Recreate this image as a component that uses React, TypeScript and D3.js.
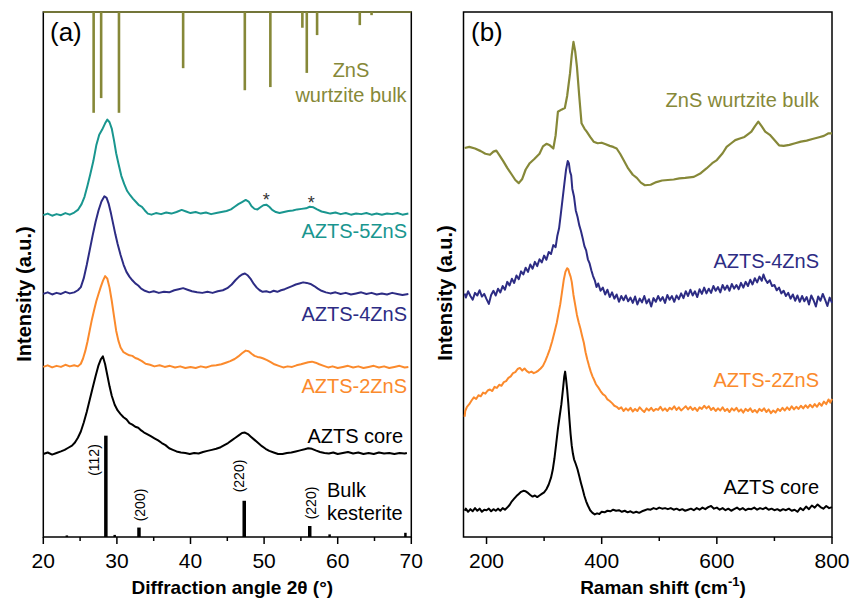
import React from "react";
import * as d3 from "d3";

type Pt = [number, number];

// ---- axis ticks ----
const xrdTicks = [20, 30, 40, 50, 60, 70];
const xrdMinorTicks = [25, 35, 45, 55, 65];
const ramanTicks = [200, 400, 600, 800];
const ramanMinorTicks = [300, 500, 700];

// ---- (a) XRD patterns, [2theta, stacked intensity a.u.] ----
const xrd5ZnS: Pt[] = [
  [20.0, 61.3], [20.6, 61.6], [21.2, 61.2], [21.8, 61.5], [22.4, 61.3], [23.0, 61.7], [23.6, 61.4], [24.2, 61.8],
  [24.7, 62.3], [25.2, 63.4], [25.6, 64.8], [26.0, 66.9], [26.4, 69.2], [26.8, 71.6], [27.2, 74.6], [27.6, 76.6],
  [28.0, 77.6], [28.4, 78.8], [28.7, 79.5], [29.0, 79.0], [29.3, 77.8], [29.6, 75.6], [29.9, 73.1], [30.2, 71.2],
  [30.6, 68.8], [31.0, 67.2], [31.4, 65.9], [31.8, 65.1], [32.2, 64.4], [32.6, 63.8], [33.0, 63.2], [33.4, 62.9],
  [33.8, 62.2], [34.2, 61.6], [34.7, 61.4], [35.3, 61.7], [36.0, 61.5], [36.7, 61.8], [37.4, 61.6], [38.1, 61.9],
  [38.8, 62.3], [39.4, 62.0], [40.0, 61.7], [40.7, 61.9], [41.4, 61.6], [42.1, 61.8], [42.8, 61.5], [43.5, 61.7],
  [44.2, 61.9], [44.9, 62.1], [45.5, 62.4], [46.0, 62.9], [46.5, 63.4], [47.0, 63.8], [47.5, 64.2], [47.9, 63.9],
  [48.3, 63.0], [48.7, 62.5], [49.1, 62.4], [49.5, 62.8], [49.9, 63.2], [50.3, 63.3], [50.7, 62.9], [51.1, 62.3],
  [51.6, 61.9], [52.1, 61.7], [52.7, 61.9], [53.3, 62.1], [53.9, 62.2], [54.5, 62.4], [55.1, 62.5], [55.7, 62.6],
  [56.2, 62.9], [56.7, 62.8], [57.2, 62.4], [57.8, 62.0], [58.4, 61.8], [59.0, 61.6], [59.7, 61.8], [60.4, 61.5],
  [61.1, 61.7], [61.8, 61.4], [62.5, 61.6], [63.2, 61.5], [63.9, 61.7], [64.6, 61.4], [65.3, 61.6], [66.0, 61.4],
  [66.7, 61.6], [67.4, 61.5], [68.1, 61.7], [68.8, 61.4], [69.6, 61.6],
];

const xrd4ZnS: Pt[] = [
  [20.0, 46.3], [20.6, 46.6], [21.2, 46.2], [21.8, 46.5], [22.4, 46.3], [23.0, 46.7], [23.6, 46.4], [24.2, 46.6],
  [24.7, 47.0], [25.1, 47.6], [25.5, 49.3], [25.9, 51.8], [26.3, 54.6], [26.7, 57.4], [27.1, 60.0], [27.5, 62.2],
  [27.9, 63.9], [28.3, 64.9], [28.6, 64.6], [28.9, 63.4], [29.2, 61.6], [29.5, 59.6], [29.8, 57.6], [30.1, 55.8],
  [30.5, 53.7], [30.9, 51.9], [31.3, 50.5], [31.7, 49.6], [32.1, 48.9], [32.5, 48.3], [32.9, 47.9], [33.3, 47.3],
  [33.8, 46.9], [34.4, 46.6], [35.0, 46.8], [35.7, 46.5], [36.4, 46.7], [37.1, 46.6], [37.8, 47.0], [38.4, 47.2],
  [39.0, 47.4], [39.6, 47.1], [40.2, 46.8], [40.9, 46.6], [41.6, 46.5], [42.3, 46.7], [43.0, 46.5], [43.7, 46.8],
  [44.4, 47.0], [45.0, 47.4], [45.6, 48.1], [46.1, 48.9], [46.6, 49.6], [47.0, 50.0], [47.4, 50.2], [47.8, 49.8],
  [48.2, 49.1], [48.6, 48.2], [49.0, 47.5], [49.4, 47.0], [49.8, 46.7], [50.3, 46.8], [50.8, 46.6], [51.3, 46.9],
  [51.8, 46.7], [52.3, 47.0], [52.8, 47.2], [53.3, 47.5], [53.8, 47.8], [54.3, 48.1], [54.8, 48.3], [55.3, 48.5],
  [55.8, 48.4], [56.3, 48.2], [56.8, 47.8], [57.3, 47.3], [57.8, 46.9], [58.4, 46.6], [59.0, 46.4], [59.7, 46.6],
  [60.4, 46.3], [61.1, 46.5], [61.8, 46.2], [62.5, 46.4], [63.2, 46.6], [63.9, 46.3], [64.6, 46.5], [65.3, 46.2],
  [66.0, 46.4], [66.7, 46.2], [67.4, 46.5], [68.1, 46.3], [68.8, 46.1], [69.6, 46.3],
];

const xrd2ZnS: Pt[] = [
  [20.0, 32.4], [20.6, 32.7], [21.2, 32.3], [21.8, 32.6], [22.4, 32.4], [23.0, 32.8], [23.6, 32.5], [24.2, 32.7],
  [24.7, 32.5], [25.1, 33.0], [25.4, 34.0], [25.7, 35.4], [26.0, 37.2], [26.3, 39.3], [26.6, 41.4], [26.9, 43.2],
  [27.2, 44.9], [27.5, 46.3], [27.8, 47.6], [28.1, 48.8], [28.4, 49.7], [28.7, 49.2], [29.0, 47.5], [29.3, 45.0],
  [29.6, 42.1], [29.9, 39.3], [30.2, 37.4], [30.5, 36.1], [30.9, 35.2], [31.3, 34.9], [31.7, 34.6], [32.1, 34.5],
  [32.5, 34.1], [32.9, 33.9], [33.4, 33.5], [33.9, 33.0], [34.5, 32.8], [35.1, 32.5], [35.8, 32.7], [36.5, 32.4],
  [37.2, 32.6], [37.9, 32.3], [38.6, 32.5], [39.3, 32.2], [40.0, 32.4], [40.7, 32.2], [41.4, 32.5], [42.1, 32.3],
  [42.8, 32.6], [43.5, 32.7], [44.2, 32.9], [44.8, 33.2], [45.4, 33.5], [46.0, 33.9], [46.5, 34.4], [47.0, 35.0],
  [47.5, 35.5], [47.9, 35.4], [48.3, 34.9], [48.7, 34.5], [49.1, 34.3], [49.5, 34.2], [49.9, 34.0], [50.4, 33.7],
  [50.9, 33.3], [51.4, 32.9], [52.0, 32.6], [52.6, 32.3], [53.2, 32.5], [53.8, 32.4], [54.4, 32.7], [55.0, 32.9],
  [55.5, 33.1], [56.0, 33.3], [56.5, 33.4], [57.0, 33.2], [57.5, 32.9], [58.1, 32.6], [58.7, 32.3], [59.3, 32.5],
  [60.0, 32.2], [60.7, 32.4], [61.4, 32.6], [62.1, 32.3], [62.8, 32.5], [63.5, 32.2], [64.2, 32.4], [64.9, 32.6],
  [65.6, 32.3], [66.3, 32.5], [67.0, 32.2], [67.7, 32.4], [68.4, 32.6], [69.1, 32.3], [69.6, 32.4],
];

const xrdCore: Pt[] = [
  [20.0, 15.8], [20.6, 16.1], [21.2, 15.7], [21.8, 16.0], [22.4, 16.3], [22.9, 16.6], [23.4, 17.0], [23.9, 17.4],
  [24.3, 18.0], [24.7, 18.9], [25.1, 20.1], [25.5, 21.8], [25.9, 23.8], [26.3, 26.1], [26.7, 28.4], [27.1, 30.6],
  [27.5, 32.7], [27.8, 33.8], [28.1, 34.4], [28.4, 32.9], [28.7, 30.8], [29.0, 28.7], [29.3, 26.9], [29.7, 25.2],
  [30.1, 24.1], [30.5, 23.4], [30.9, 22.8], [31.3, 22.4], [31.7, 21.7], [32.1, 21.4], [32.5, 21.0], [32.9, 20.8],
  [33.3, 20.3], [33.7, 19.9], [34.1, 19.6], [34.6, 19.2], [35.1, 18.8], [35.6, 18.4], [36.1, 17.9], [36.6, 17.5],
  [37.1, 16.9], [37.6, 16.6], [38.1, 16.3], [38.7, 16.1], [39.3, 16.0], [39.9, 15.8], [40.5, 16.0], [41.1, 15.9],
  [41.7, 16.2], [42.3, 16.4], [42.9, 16.6], [43.5, 16.8], [44.1, 17.1], [44.6, 17.5], [45.1, 17.9], [45.6, 18.4],
  [46.1, 18.9], [46.6, 19.4], [47.0, 19.8], [47.4, 19.9], [47.8, 19.6], [48.2, 19.1], [48.7, 18.5], [49.2, 17.9],
  [49.7, 17.3], [50.2, 16.8], [50.7, 16.4], [51.3, 16.1], [51.9, 15.8], [52.5, 15.8], [53.1, 16.0], [53.7, 16.1],
  [54.3, 16.3], [54.9, 16.5], [55.5, 16.7], [56.0, 16.9], [56.5, 16.8], [57.0, 16.5], [57.6, 16.2], [58.2, 16.0],
  [58.8, 15.9], [59.4, 16.1], [60.0, 15.8], [60.7, 16.0], [61.4, 16.2], [62.1, 15.9], [62.8, 16.1], [63.5, 15.8],
  [64.2, 16.0], [64.9, 15.8], [65.6, 16.1], [66.3, 15.9], [67.0, 16.0], [67.7, 15.8], [68.4, 16.0], [69.1, 15.9],
  [69.4, 16.0],
];

// reference sticks: ZnS wurtzite hangs from the top, [2theta, relative intensity]
const znsWurtziteSticks: Pt[] = [
  [26.84, 19.2], [27.86, 16.4], [30.28, 19.2], [39.0, 10.7], [47.38, 14.9], [50.85, 14.3],
  [55.2, 3.0], [55.8, 11.6], [57.2, 4.4], [63.0, 2.5], [64.6, 0.6],
];
// bulk kesterite, [2theta, relative intensity]
const kesteriteSticks: Pt[] = [
  [23.2, 0.3], [28.5, 19.3], [29.7, 0.4], [33.0, 1.8], [47.3, 6.9], [56.2, 2.1], [58.9, 0.5], [69.2, 0.8],
];
const kesteriteHkl = ["(112)", "(200)", "(220)", "(220)"];
const kesteriteHklPos = [28.5, 33.0, 47.3, 56.2];

// ---- (b) Raman spectra, [shift cm-1, stacked intensity a.u.] ----
const ramanZnS: Pt[] = [
  [162, 74.1], [170, 74.3], [180, 74.0], [190, 73.5], [198, 73.0], [206, 72.8], [212, 73.4], [217, 73.6],
  [222, 72.8], [229, 71.6], [236, 70.3], [244, 69.0], [250, 68.0], [256, 67.4], [262, 68.2], [268, 70.0],
  [275, 71.2], [283, 72.0], [292, 73.0], [298, 74.4], [304, 74.9], [310, 74.6], [316, 74.0], [320, 76.5],
  [324, 81.0], [330, 81.4], [336, 81.7], [340, 84.0], [345, 88.3], [348, 91.8], [351, 94.3], [354, 92.5],
  [357, 89.6], [361, 84.0], [365, 78.8], [370, 77.8], [374, 77.2], [380, 76.2], [386, 75.3], [393, 75.0],
  [400, 75.1], [407, 74.8], [414, 74.5], [420, 74.3], [426, 74.0], [432, 73.0], [438, 71.8], [446, 70.2],
  [454, 69.0], [461, 68.4], [468, 67.5], [475, 67.0], [485, 67.1], [495, 67.6], [505, 67.9], [515, 68.0],
  [525, 68.1], [535, 68.3], [545, 68.4], [560, 68.6], [572, 69.3], [582, 70.2], [592, 71.2], [600, 71.8],
  [610, 73.1], [617, 74.3], [625, 75.0], [632, 75.6], [640, 75.9], [648, 76.2], [655, 76.8], [660, 77.2],
  [666, 78.2], [672, 79.1], [678, 78.2], [684, 77.2], [692, 76.6], [700, 75.6], [708, 74.6], [716, 74.5],
  [726, 74.7], [736, 75.0], [746, 75.3], [756, 75.5], [766, 75.8], [776, 76.1], [786, 76.4], [794, 76.9],
  [800, 76.9],
];

const raman4ZnS: Pt[] = [
  [162, 46.4], [164, 45.6], [168, 46.8], [172, 45.9], [176, 45.2], [180, 46.5], [184, 46.0], [188, 47.0],
  [192, 45.8], [196, 46.3], [200, 45.3], [204, 44.4], [208, 46.1], [212, 46.9], [216, 46.0], [220, 47.3],
  [224, 46.6], [228, 47.8], [232, 47.1], [236, 48.6], [240, 47.9], [244, 49.2], [248, 48.4], [252, 49.8],
  [256, 49.1], [260, 50.6], [264, 50.0], [268, 51.3], [272, 50.5], [276, 51.9], [280, 51.1], [284, 52.4],
  [288, 51.6], [292, 52.9], [296, 52.3], [300, 53.6], [304, 52.8], [308, 54.3], [312, 53.9], [316, 55.6],
  [320, 55.2], [323, 57.4], [326, 58.8], [329, 61.5], [332, 64.3], [335, 67.1], [338, 69.9], [341, 71.6],
  [343, 71.2], [345, 69.6], [347, 68.9], [349, 66.3], [352, 64.8], [355, 62.2], [358, 61.0], [361, 59.4],
  [364, 58.3], [367, 56.9], [370, 55.4], [373, 54.6], [376, 52.9], [379, 52.1], [382, 50.8], [385, 49.7],
  [388, 48.9], [391, 47.6], [394, 48.3], [398, 46.9], [402, 47.5], [406, 46.2], [410, 47.1], [414, 45.7],
  [418, 46.6], [422, 45.4], [426, 46.2], [430, 44.8], [434, 45.9], [438, 45.1], [442, 46.0], [446, 44.9],
  [450, 45.6], [454, 44.6], [458, 45.8], [462, 44.3], [466, 45.4], [470, 44.7], [474, 45.9], [478, 44.5],
  [482, 45.3], [486, 43.9], [490, 45.5], [494, 44.8], [498, 45.9], [502, 45.0], [506, 45.7], [510, 44.6],
  [514, 46.1], [518, 45.2], [522, 45.9], [526, 44.8], [530, 46.0], [534, 45.3], [538, 46.4], [542, 45.5],
  [546, 46.8], [550, 45.9], [554, 47.1], [558, 46.0], [562, 46.8], [566, 45.7], [570, 47.2], [574, 46.3],
  [578, 47.5], [582, 46.4], [586, 47.3], [590, 46.5], [594, 47.8], [598, 46.9], [602, 47.6], [606, 46.6],
  [610, 48.0], [614, 47.1], [618, 47.9], [622, 46.9], [626, 48.2], [630, 47.3], [634, 48.0], [638, 47.2],
  [642, 48.4], [646, 47.5], [650, 48.6], [654, 47.8], [658, 49.0], [662, 48.1], [666, 49.3], [670, 48.5],
  [674, 49.6], [678, 48.8], [681, 50.0], [684, 49.1], [688, 48.4], [692, 48.9], [696, 47.8], [700, 48.0],
  [704, 47.0], [708, 47.5], [712, 46.4], [716, 46.9], [720, 45.9], [724, 46.5], [728, 45.4], [732, 46.2],
  [736, 45.0], [740, 46.0], [744, 44.8], [748, 45.9], [752, 44.9], [756, 45.7], [760, 44.3], [764, 46.0],
  [768, 45.1], [772, 43.9], [776, 45.8], [780, 45.0], [784, 46.3], [788, 45.2], [792, 44.0], [796, 45.6],
  [800, 44.6],
];

const raman2ZnS: Pt[] = [
  [162, 22.9], [163, 24.0], [166, 24.8], [170, 25.3], [174, 26.0], [178, 26.6], [182, 26.3], [186, 27.0],
  [190, 26.8], [194, 27.5], [198, 27.3], [202, 27.9], [206, 28.1], [210, 27.8], [214, 28.6], [218, 28.4],
  [222, 29.0], [226, 28.8], [230, 29.5], [234, 29.7], [238, 30.3], [242, 30.6], [246, 31.2], [250, 31.4],
  [254, 32.0], [258, 32.2], [262, 31.7], [266, 32.1], [270, 31.6], [274, 31.3], [278, 31.5], [282, 31.2],
  [286, 31.4], [290, 31.7], [294, 32.1], [298, 32.6], [302, 33.5], [306, 34.6], [310, 35.8], [314, 37.3],
  [318, 39.0], [322, 40.8], [325, 42.6], [328, 44.3], [331, 46.6], [334, 48.9], [337, 50.5], [340, 51.2],
  [342, 51.0], [344, 50.2], [346, 49.6], [348, 48.6], [351, 46.1], [354, 44.2], [357, 42.3], [360, 40.9],
  [363, 39.7], [366, 38.3], [369, 37.0], [372, 35.2], [375, 33.8], [378, 32.6], [381, 31.5], [384, 30.6],
  [387, 29.9], [390, 29.1], [394, 28.5], [398, 27.8], [402, 27.2], [406, 26.9], [410, 26.2], [414, 25.9],
  [418, 25.5], [422, 25.0], [426, 24.8], [430, 24.4], [434, 24.7], [438, 24.0], [442, 24.5], [446, 24.1],
  [450, 24.6], [454, 23.9], [458, 24.4], [462, 24.0], [466, 24.7], [470, 24.2], [474, 23.8], [478, 24.5],
  [482, 24.1], [486, 24.6], [490, 24.0], [494, 24.4], [498, 24.2], [502, 24.8], [506, 24.1], [510, 24.5],
  [514, 24.0], [518, 24.6], [522, 24.3], [526, 24.9], [530, 24.2], [534, 24.7], [538, 24.1], [542, 24.5],
  [546, 24.9], [550, 24.3], [554, 24.8], [558, 24.2], [562, 24.6], [566, 24.0], [570, 24.7], [574, 24.4],
  [578, 25.0], [582, 24.5], [586, 24.9], [590, 24.2], [594, 24.6], [598, 24.0], [602, 24.5], [606, 24.1],
  [610, 24.7], [614, 24.0], [618, 24.4], [622, 23.8], [626, 24.5], [630, 24.1], [634, 24.6], [638, 23.9],
  [642, 24.3], [646, 23.7], [650, 24.4], [654, 24.0], [658, 24.5], [662, 23.8], [666, 24.2], [670, 23.7],
  [674, 24.4], [678, 24.0], [682, 24.5], [686, 23.8], [690, 24.3], [694, 23.6], [698, 24.1], [702, 23.7],
  [706, 24.4], [710, 24.0], [714, 24.6], [718, 24.1], [722, 24.7], [726, 24.2], [730, 24.9], [734, 24.3],
  [738, 24.8], [742, 24.4], [746, 25.0], [750, 24.5], [754, 25.1], [758, 24.6], [762, 25.2], [766, 24.7],
  [770, 25.3], [774, 24.8], [778, 25.5], [782, 25.0], [786, 25.8], [790, 25.3], [794, 26.2], [797, 25.6],
  [800, 26.3],
];

const ramanCore: Pt[] = [
  [162, 5.0], [164, 5.4], [168, 4.8], [172, 5.3], [176, 4.9], [180, 5.5], [184, 5.0], [188, 5.4],
  [192, 4.8], [196, 5.2], [200, 5.1], [204, 5.4], [208, 4.9], [212, 5.3], [216, 5.0], [220, 5.4],
  [224, 5.0], [228, 5.5], [232, 5.2], [236, 5.6], [240, 6.1], [244, 6.8], [248, 7.3], [252, 7.8],
  [256, 8.2], [260, 8.6], [264, 8.8], [268, 8.7], [272, 8.4], [276, 8.0], [280, 7.7], [284, 7.9],
  [288, 7.6], [292, 7.9], [296, 8.2], [300, 8.5], [304, 9.1], [308, 10.0], [312, 11.3], [315, 12.8],
  [318, 15.0], [321, 17.8], [324, 20.6], [327, 23.0], [330, 25.3], [333, 28.4], [335, 30.6], [336.5, 31.5],
  [338, 30.2], [340, 28.1], [342, 25.5], [344, 22.4], [346, 19.6], [348, 17.4], [350, 15.9], [352, 14.8],
  [355, 13.9], [358, 12.9], [361, 11.6], [364, 10.3], [367, 9.1], [370, 7.8], [373, 6.8], [376, 6.0],
  [380, 5.1], [384, 4.6], [388, 4.3], [392, 4.5], [396, 4.4], [400, 4.8], [405, 4.7], [410, 5.0],
  [415, 4.9], [420, 5.2], [425, 5.0], [430, 5.1], [435, 4.8], [440, 5.0], [445, 4.7], [450, 4.9],
  [455, 4.6], [460, 4.8], [465, 4.6], [470, 4.9], [475, 5.1], [480, 5.3], [485, 5.2], [490, 5.5],
  [495, 5.3], [500, 5.6], [505, 5.4], [510, 5.5], [515, 5.3], [520, 5.5], [525, 5.2], [530, 5.4],
  [535, 5.1], [540, 5.3], [545, 5.0], [550, 5.2], [555, 5.4], [560, 5.1], [565, 5.5], [570, 5.2],
  [575, 5.6], [580, 5.3], [585, 5.7], [590, 5.9], [595, 5.4], [600, 5.6], [605, 5.2], [610, 5.5],
  [615, 5.1], [620, 5.4], [625, 5.0], [630, 5.3], [635, 5.6], [640, 5.2], [645, 5.5], [650, 5.1],
  [655, 5.4], [660, 5.3], [665, 5.6], [670, 5.2], [675, 5.5], [680, 5.3], [685, 5.6], [690, 5.2],
  [695, 5.4], [700, 5.1], [705, 5.3], [710, 5.0], [715, 5.3], [720, 5.1], [725, 5.4], [730, 5.0],
  [735, 5.2], [740, 4.8], [745, 5.5], [750, 5.1], [755, 5.8], [760, 5.3], [765, 6.0], [770, 5.6],
  [775, 6.2], [780, 5.7], [785, 5.4], [790, 5.9], [795, 5.5], [800, 5.7],
];

const TEAL = "#19968f";
const NAVY = "#2d2c84";
const ORANGE = "#fb8a2c";
const OLIVE = "#868838";
const FONT = "'Liberation Sans', Arial, Helvetica, sans-serif";

const A = { left: 43.3, right: 411.3, top: 12, bottom: 537 };
const B = { left: 463.5, right: 832, top: 12, bottom: 537 };

const xA = d3.scaleLinear().domain([20, 70]).range([A.left, A.right]);
const xB = d3.scaleLinear().domain([160, 800]).range([B.left, B.right]);
const y = d3.scaleLinear().domain([0, 100]).range([A.bottom, A.top]);

const lineA = d3.line<Pt>().x((d) => xA(d[0])).y((d) => y(d[1]));
const lineB = d3.line<Pt>().x((d) => xB(d[0])).y((d) => y(d[1]));

const Axis = ({ x, ticks, minor, box }: any) => (
  <g>
    <rect x={box.left} y={box.top} width={box.right - box.left} height={box.bottom - box.top}
      fill="none" stroke="#000" strokeWidth={1.5} />
    {ticks.map((t: number) => (
      <g key={"t" + t}>
        <line x1={x(t)} x2={x(t)} y1={box.bottom} y2={box.bottom + 7} stroke="#000" strokeWidth={1.5} />
        <text x={x(t)} y={box.bottom + 31} textAnchor="middle" fontSize={21} fontFamily={FONT}>{t}</text>
      </g>
    ))}
    {minor.map((t: number) => (
      <line key={"m" + t} x1={x(t)} x2={x(t)} y1={box.bottom} y2={box.bottom + 4} stroke="#000" strokeWidth={1.5} />
    ))}
  </g>
);

const hklLayout = [
  { dx: -12, cy: 460 },
  { dx: 1, cy: 505 },
  { dx: -5, cy: 476 },
  { dx: 1, cy: 503 },
];

export default function App() {
  const curve = (d: string, color: string, w = 2) => (
    <path d={d} fill="none" stroke={color} strokeWidth={w} strokeLinejoin="round" />
  );
  return (
    <svg width={850} height={599} style={{ position: "absolute", left: 0, top: 0, background: "#fff" }}
      fontFamily={FONT}>
      <rect width={850} height={599} fill="#fff" />

      {/* ---------- panel (a) ---------- */}
      <Axis x={xA} ticks={xrdTicks} minor={xrdMinorTicks} box={A} />
      <line x1={A.left} x2={A.right} y1={y(100)} y2={y(100)} stroke={OLIVE} strokeWidth={1.6} />
      {znsWurtziteSticks.map((s, i) => (
        <line key={"z" + i} x1={xA(s[0])} x2={xA(s[0])} y1={y(100)} y2={y(100 - s[1])}
          stroke={OLIVE} strokeWidth={2.6} />
      ))}
      {kesteriteSticks.map((s, i) => (
        <line key={"k" + i} x1={xA(s[0])} x2={xA(s[0])} y1={y(0)} y2={y(s[1])}
          stroke="#000" strokeWidth={s[1] > 1 ? 3.5 : 2.5} />
      ))}
      {kesteriteHkl.map((lab, i) => (
        <text key={"h" + i} transform={`translate(${xA(kesteriteHklPos[i]) + hklLayout[i].dx},${hklLayout[i].cy}) rotate(-90)`}
          textAnchor="middle" dominantBaseline="central" fontSize={14}>{lab}</text>
      ))}
      {curve(lineA(xrdCore) as string, "#000")}
      {curve(lineA(xrd2ZnS) as string, ORANGE)}
      {curve(lineA(xrd4ZnS) as string, NAVY)}
      {curve(lineA(xrd5ZnS) as string, TEAL)}

      <text x={50} y={41} fontSize={26}>(a)</text>
      <text x={351} y={77} fontSize={20} fill={OLIVE} textAnchor="middle">ZnS</text>
      <text x={351} y={102} fontSize={20} fill={OLIVE} textAnchor="middle">wurtzite bulk</text>
      <text x={407} y={238} fontSize={20} fill={TEAL} textAnchor="end">AZTS-5ZnS</text>
      <text x={407} y={321} fontSize={20} fill={NAVY} textAnchor="end">AZTS-4ZnS</text>
      <text x={407} y={393} fontSize={20} fill={ORANGE} textAnchor="end">AZTS-2ZnS</text>
      <text x={403} y={443} fontSize={20} fill="#000" textAnchor="end">AZTS core</text>
      <text x={327} y={497} fontSize={20}>Bulk</text>
      <text x={327} y={520} fontSize={20}>kesterite</text>
      <text x={xA(50.3)} y={206} fontSize={18} fill="#333" textAnchor="middle">*</text>
      <text x={xA(56.4)} y={209} fontSize={18} fill="#333" textAnchor="middle">*</text>

      <text transform={`translate(24,294) rotate(-90)`} textAnchor="middle" dominantBaseline="central"
        fontSize={20} fontWeight="bold">Intensity (a.u.)</text>
      <text x={(A.left + A.right) / 2 + 5} y={594} textAnchor="middle" fontSize={19} fontWeight="bold">
        Diffraction angle 2θ (°)
      </text>

      {/* ---------- panel (b) ---------- */}
      <Axis x={xB} ticks={ramanTicks} minor={ramanMinorTicks} box={B} />
      {curve(lineB(ramanCore) as string, "#000")}
      {curve(lineB(raman2ZnS) as string, ORANGE)}
      {curve(lineB(raman4ZnS) as string, NAVY)}
      {curve(lineB(ramanZnS) as string, OLIVE, 2.2)}

      <text x={471} y={41} fontSize={26}>(b)</text>
      <text x={819} y={107} fontSize={20} fill={OLIVE} textAnchor="end">ZnS wurtzite bulk</text>
      <text x={819} y={268} fontSize={20} fill={NAVY} textAnchor="end">AZTS-4ZnS</text>
      <text x={819} y={387} fontSize={20} fill={ORANGE} textAnchor="end">AZTS-2ZnS</text>
      <text x={819} y={494} fontSize={20} fill="#000" textAnchor="end">AZTS core</text>

      <text transform={`translate(445,293) rotate(-90)`} textAnchor="middle" dominantBaseline="central"
        fontSize={20} fontWeight="bold">Intensity (a.u.)</text>
      <text x={663} y={594} textAnchor="middle" fontSize={19} fontWeight="bold">
        Raman shift (cm<tspan fontSize={13} dy={-8}>-1</tspan><tspan dy={8}>)</tspan>
      </text>
    </svg>
  );
}
